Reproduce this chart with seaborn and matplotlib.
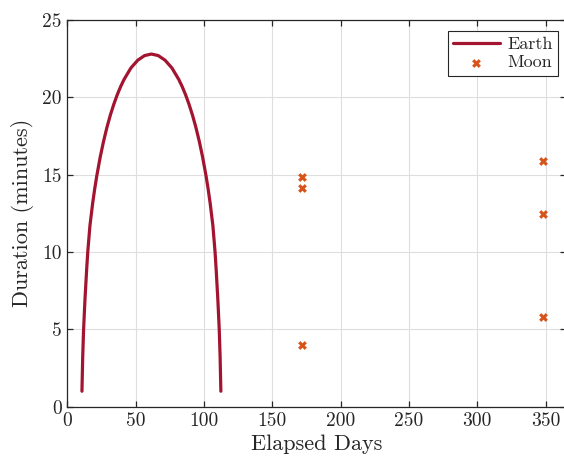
import numpy as np
import pandas as pd
import matplotlib
matplotlib.use("Agg")
import matplotlib.pyplot as plt
import seaborn as sns

# Earth eclipse durations
earth_days = [10.65, 11.2, 11.85, 12.85, 14.05, 14.9, 16.5, 18.5, 20.0, 21.5, 24.0, 26.5, 29.0, 31.5,
              34.0, 36.5, 39.0, 41.5, 46.5, 51.5, 56.5, 61.5,
              66.5, 71.5, 76.5, 81.5, 84.0, 86.5, 89.0, 91.5, 94.0, 96.5, 99.0, 101.5,
              103.0, 104.5, 106.5, 108.1, 108.95, 110.15, 111.15, 111.8, 112.35]
earth_minutes = [1.0, 3.2, 5.0, 6.9, 8.8, 10.0, 11.71, 13.16, 14.09, 14.92, 16.13, 17.17, 18.08, 18.87,
                 19.56, 20.17, 20.70, 21.16, 21.90, 22.40, 22.70, 22.80,
                 22.70, 22.40, 21.90, 21.16, 20.70, 20.17, 19.56, 18.87, 18.08, 17.17, 16.13, 14.92,
                 14.09, 13.16, 11.71, 10.0, 8.8, 6.9, 5.0, 3.2, 1.0]

# Moon eclipse durations
moon_days = [171.8, 171.8, 171.8, 348.5, 348.5, 348.5]
moon_minutes = [14.83, 14.14, 4.02, 15.91, 12.43, 5.78]

x_ticks = [0, 50, 100, 150, 200, 250, 300, 350]
y_ticks = [0, 5, 10, 15, 20, 25]

earth_df = pd.DataFrame({"Elapsed Days": earth_days, "Duration": earth_minutes})
moon_df = pd.DataFrame({"Elapsed Days": moon_days, "Duration": moon_minutes})

sns.set_style("white")
plt.rcParams["font.family"] = ["cmr10", "DejaVu Serif"]
plt.rcParams["mathtext.fontset"] = "cm"
plt.rcParams["axes.formatter.use_mathtext"] = True

fig = plt.figure(figsize=(5.64, 4.68), dpi=100)
W, H = 564, 468
left, right, top, bottom = 67.4, 566.0, 20.0, 406.7
ax = fig.add_axes([left / W, (H - bottom) / H, (right - left) / W, (bottom - top) / H])

earth_color = "#A2142F"
moon_color = "#D95319"

sns.lineplot(data=earth_df, x="Elapsed Days", y="Duration", ax=ax, color=earth_color,
             linewidth=2.3, sort=False, label="Earth")
sns.scatterplot(data=moon_df, x="Elapsed Days", y="Duration", ax=ax, color=moon_color,
                marker="X", s=40, linewidth=0, label="Moon")

ax.set_xlim(0, (right - left) / 1.366)
ax.set_ylim(0, 25)
ax.set_xticks(x_ticks)
ax.set_yticks(y_ticks)
ax.set_xticklabels([str(t) for t in x_ticks])
ax.set_yticklabels([str(t) for t in y_ticks])

ax.grid(True, color="#dedede", linewidth=0.8)
ax.set_axisbelow(True)
for side in ["left", "bottom", "top", "right"]:
    ax.spines[side].set_visible(True)
    ax.spines[side].set_color("#262626")
    ax.spines[side].set_linewidth(0.9)
ax.tick_params(direction="in", length=4, width=0.9, colors="#262626",
               labelsize=14, top=True, right=True, bottom=True, left=True, pad=4)
for lbl in ax.get_xticklabels() + ax.get_yticklabels():
    lbl.set_color("#262626")

ax.set_xlabel("Elapsed Days", fontsize=16, color="#262626", labelpad=3)
ax.set_ylabel("Duration (minutes)", fontsize=16, color="#262626", labelpad=6)

leg = ax.legend(loc="upper right", bbox_to_anchor=(558 / W, (H - 31) / H),
                bbox_transform=fig.transFigure, fontsize=13, frameon=True,
                fancybox=False, edgecolor="#262626", framealpha=1,
                borderpad=0.3, handlelength=2.6, handletextpad=0.4, labelspacing=0.15,
                borderaxespad=0)
leg.get_frame().set_linewidth(0.8)

fig.savefig("out.png", dpi=100)
